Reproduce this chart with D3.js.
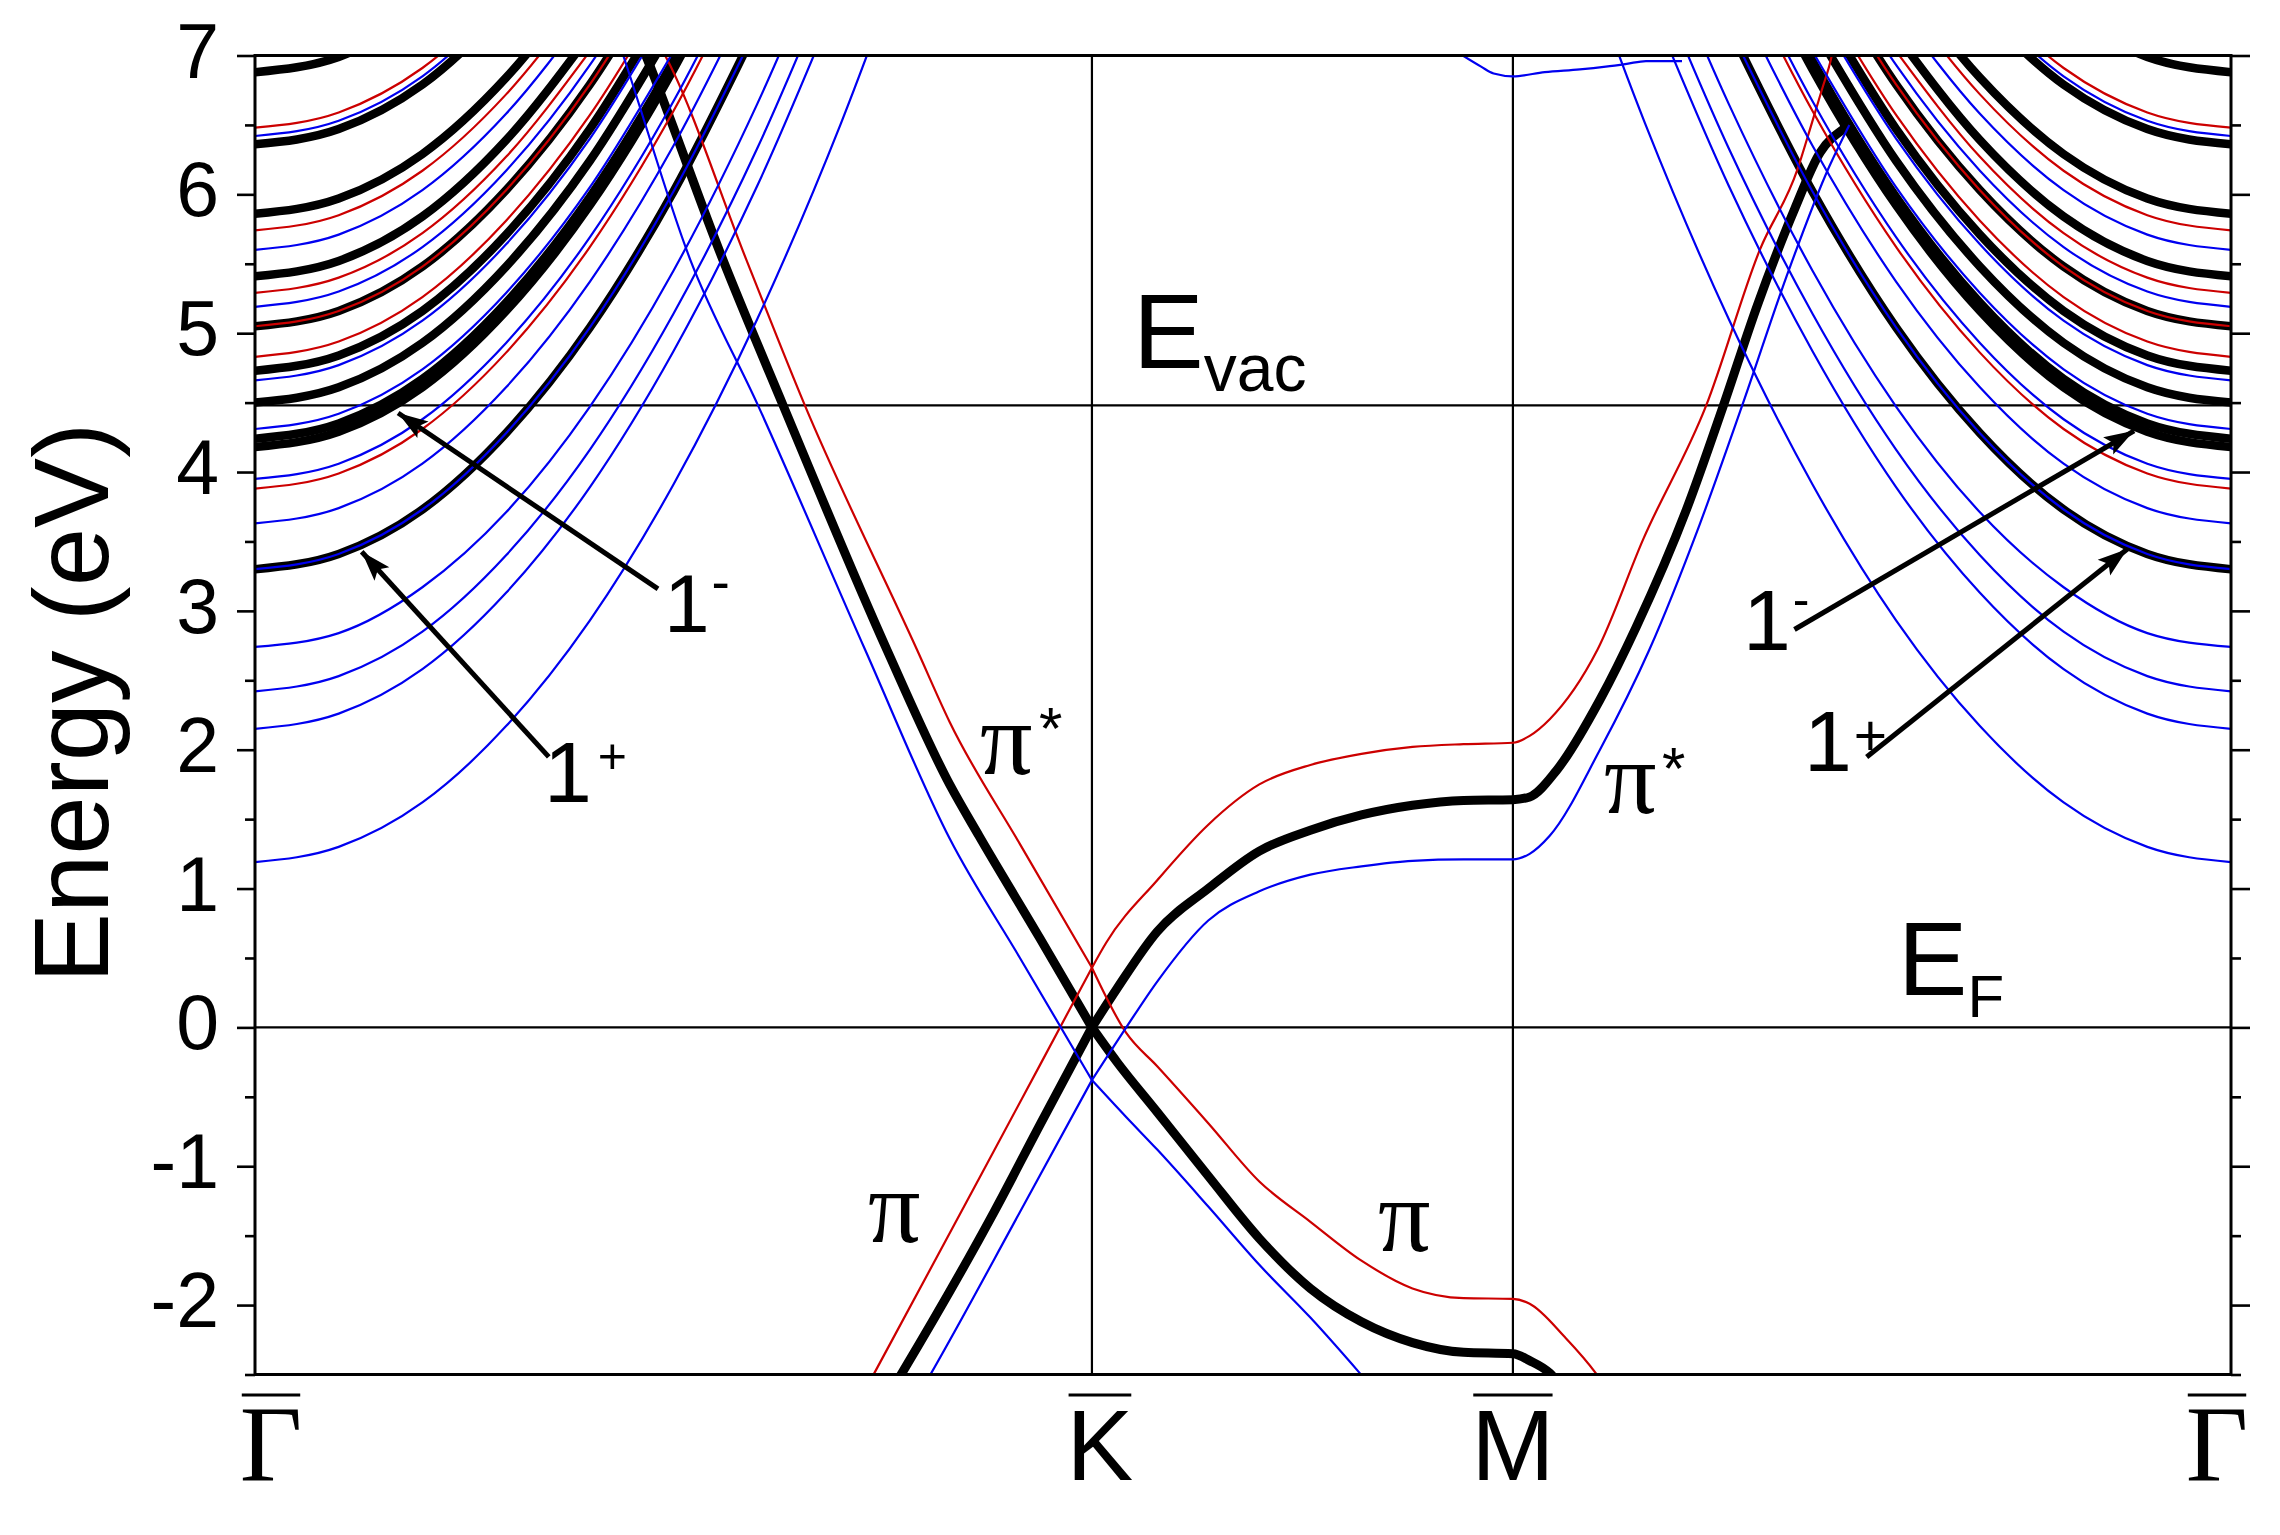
<!DOCTYPE html>
<html><head><meta charset="utf-8">
<script src="https://cdn.jsdelivr.net/npm/d3@7"></script>
<style>body{margin:0;background:#fff} svg{display:block}</style>
</head><body>
<svg id="c" width="2280" height="1535"></svg>
<script>
// ---------------- DATA ----------------
// k-path positions of the high-symmetry points (Γ-K = 1)
const kTicks = [0, 1, 1.503, 2.361];
const kNames = ["Γ", "K", "M", "Γ"];
const yMajor = [-2, -1, 0, 1, 2, 3, 4, 5, 6, 7];
const yMinor = [-2.5, -1.5, -0.5, 0.5, 1.5, 2.5, 3.5, 4.5, 5.5, 6.5];
const E_F = 0, E_VAC = 4.48;

// graphene pi / pi* bands, [k, E]  (black = reference, red = shifted up, blue = shifted down)
const blackUpperGK = [[0.436,7.45],[0.467,7.0],[0.559,5.53],[0.631,4.48],[0.755,2.72],[0.830,1.75],[0.865,1.38],[0.938,0.64],[1.0,0]];
const blackUpperKMG = [[1.0,0],[1.03,0.28],[1.078,0.69],[1.139,1.0],[1.2,1.27],[1.261,1.42],[1.322,1.53],[1.383,1.6],[1.444,1.635],[1.503,1.64],[1.523,1.66],[1.555,1.85],[1.607,2.36],[1.650,2.88],[1.711,3.74],[1.754,4.47],[1.795,5.2],[1.840,5.9],[1.870,6.3],[1.898,6.47]];
const blackLowerGK = [[0.747,-2.75],[0.773,-2.49],[0.883,-1.33],[0.938,-0.7],[1.0,0]];
const blackLowerKMG = [[1.0,0],[1.03,-0.25],[1.078,-0.61],[1.139,-1.07],[1.2,-1.52],[1.261,-1.88],[1.322,-2.12],[1.383,-2.27],[1.444,-2.34],[1.503,-2.35],[1.523,-2.40],[1.547,-2.49],[1.565,-2.62]];

const redUpperGK = [[0.460,7.3],[0.490,7.0],[0.587,5.53],[0.657,4.48],[0.791,2.72],[0.830,2.2],[0.914,1.32],[1.0,0.43]];
const redUpperKMG = [[1.0,0.43],[1.017,0.61],[1.078,1.06],[1.139,1.46],[1.2,1.75],[1.261,1.89],[1.322,1.97],[1.383,2.02],[1.444,2.04],[1.503,2.05],[1.523,2.10],[1.547,2.22],[1.604,2.72],[1.659,3.52],[1.734,4.48],[1.798,5.6],[1.843,6.18],[1.859,6.49],[1.872,6.75],[1.884,7.0],[1.89,7.2]];
const redLowerGK = [[0.723,-2.68],[0.740,-2.49],[0.866,-1.08],[0.938,-0.27],[1.0,0.43]];
const redLowerKMG = [[1.0,0.43],[1.041,-0.04],[1.078,-0.28],[1.139,-0.69],[1.2,-1.11],[1.261,-1.40],[1.322,-1.68],[1.383,-1.88],[1.444,-1.95],[1.503,-1.955],[1.523,-1.99],[1.565,-2.23],[1.602,-2.49],[1.62,-2.65]];

const blueUpperGK = [[0.412,7.5],[0.440,7.0],[0.520,5.53],[0.601,4.48],[0.729,2.72],[0.830,1.36],[0.914,0.50],[1.0,-0.38]];
const blueUpperKMG = [[1.0,-0.38],[1.041,0.0],[1.078,0.33],[1.139,0.77],[1.2,0.98],[1.261,1.10],[1.322,1.16],[1.383,1.20],[1.444,1.21],[1.503,1.21],[1.523,1.25],[1.547,1.38],[1.607,2.0],[1.666,2.72],[1.726,3.62],[1.777,4.48],[1.833,5.46],[1.881,6.2],[1.905,6.5]];
const blueLowerGK = [[0.783,-2.75],[0.808,-2.49],[0.914,-1.33],[1.0,-0.38]];
const blueLowerKMG = [[1.0,-0.38],[1.04,-0.64],[1.078,-0.88],[1.139,-1.29],[1.2,-1.71],[1.261,-2.09],[1.32,-2.49],[1.34,-2.63]];
const blueFoldedM = [[1.443,7.0],[1.465,6.92],[1.480,6.87],[1.503,6.85],[1.541,6.88],[1.583,6.90],[1.614,6.92],[1.639,6.94],[1.662,6.96],[1.705,6.96]];

// interlayer / image-potential bands near Γ: [distance from Γ, E]  (drawn at both Γ points)
const blackIPS = [
  [[0,6.88],[0.1,6.99],[0.2,7.31]],
  [[0,6.36],[0.1,6.47],[0.2,6.79],[0.3,7.34]],
  [[0,5.86],[0.1,5.97],[0.2,6.29],[0.3,6.84],[0.4,7.60]],
  [[0,5.41],[0.1,5.52],[0.2,5.84],[0.3,6.39],[0.4,7.15]],
  [[0,5.05],[0.1,5.16],[0.2,5.48],[0.3,6.03],[0.4,6.79],[0.5,7.77]],
  [[0,4.73],[0.1,4.84],[0.2,5.16],[0.3,5.71],[0.4,6.47],[0.5,7.45]],
  [[0,4.50],[0.1,4.61],[0.2,4.93],[0.3,5.48],[0.4,6.24],[0.5,7.22]],
  [[0,4.24],[0.1,4.35],[0.2,4.67],[0.3,5.22],[0.4,5.98],[0.5,6.96],[0.6,8.15]],
  [[0,4.18],[0.1,4.29],[0.2,4.61],[0.3,5.16],[0.4,5.92],[0.5,6.90],[0.6,8.09]],
  [[0,3.30],[0.1,3.41],[0.2,3.73],[0.3,4.28],[0.4,5.04],[0.5,6.02],[0.6,7.21]]
];
const redIPS = [
  [[0,6.48],[0.1,6.59],[0.2,6.91],[0.3,7.46]],
  [[0,5.74],[0.1,5.85],[0.2,6.17],[0.3,6.72],[0.4,7.48]],
  [[0,5.29],[0.1,5.40],[0.2,5.72],[0.3,6.27],[0.4,7.03]],
  [[0,5.05],[0.1,5.16],[0.2,5.48],[0.3,6.03],[0.4,6.79],[0.5,7.77]],
  [[0,4.83],[0.1,4.94],[0.2,5.26],[0.3,5.81],[0.4,6.57],[0.5,7.55]],
  [[0,3.88],[0.1,3.99],[0.2,4.31],[0.3,4.86],[0.4,5.62],[0.5,6.60],[0.6,7.79]]
];
const blueIPS = [
  [[0,6.42],[0.1,6.53],[0.2,6.85],[0.3,7.40]],
  [[0,5.60],[0.1,5.71],[0.2,6.03],[0.3,6.58],[0.4,7.34]],
  [[0,5.19],[0.1,5.30],[0.2,5.62],[0.3,6.17],[0.4,6.93],[0.5,7.91]],
  [[0,4.66],[0.1,4.77],[0.2,5.09],[0.3,5.64],[0.4,6.40],[0.5,7.38]],
  [[0,4.31],[0.1,4.42],[0.2,4.74],[0.3,5.29],[0.4,6.05],[0.5,7.03]],
  [[0,3.95],[0.1,4.06],[0.2,4.38],[0.3,4.93],[0.4,5.69],[0.5,6.67],[0.6,7.86]],
  [[0,3.63],[0.1,3.74],[0.2,4.06],[0.3,4.61],[0.4,5.37],[0.5,6.35],[0.6,7.54]],
  [[0,3.30],[0.1,3.41],[0.2,3.73],[0.3,4.28],[0.4,5.04],[0.5,6.02],[0.6,7.21]],
  [[0,2.74],[0.1,2.84],[0.2,3.17],[0.3,3.71],[0.4,4.47],[0.5,5.45],[0.6,6.65],[0.7,8.06]],
  [[0,2.42],[0.1,2.53],[0.2,2.85],[0.3,3.40],[0.4,4.16],[0.5,5.14],[0.6,6.33],[0.7,7.74]],
  [[0,2.15],[0.1,2.26],[0.2,2.58],[0.3,3.13],[0.4,3.89],[0.5,4.87],[0.6,6.06],[0.7,7.47]],
  [[0,1.19],[0.1,1.30],[0.2,1.62],[0.3,2.17],[0.4,2.93],[0.5,3.91],[0.6,5.10],[0.7,6.51],[0.8,8.14]]
];

// annotation arrows: [from k, from E, to k, to E]
const arrows = [
  [0.4815, 3.158, 0.171, 4.425],
  [0.351, 1.948, 0.1275, 3.426],
  [1.8394, 2.866, 2.2452, 4.297],
  [1.9257, 1.948, 2.2372, 3.446]
];

// ---------------- DRAW ----------------
const W = 2280, H = 1535;
const P = {left: 255, right: 2231, top: 55.5, bottom: 1374.5};
const x = d3.scaleLinear().domain([kTicks[0], kTicks[3]]).range([P.left, P.right]);
const y = d3.scaleLinear().domain([-2.5, 7]).range([P.bottom, P.top]);
const SANS = "'Liberation Sans', Arial, Helvetica, sans-serif";
const SERIF = "'Liberation Serif', 'Times New Roman', serif";
const BLUE = "#0000f0", RED = "#cc0000";

const svg = d3.select("#c");
svg.append("rect").attr("width", W).attr("height", H).attr("fill", "#fff");
const defs = svg.append("defs");
defs.append("clipPath").attr("id", "clip").append("rect")
  .attr("x", P.left).attr("y", P.top).attr("width", P.right - P.left).attr("height", P.bottom - P.top);
defs.append("marker").attr("id", "ah").attr("markerUnits", "userSpaceOnUse")
  .attr("viewBox", "-32 -12 34 24").attr("refX", 0).attr("refY", 0)
  .attr("markerWidth", 34).attr("markerHeight", 24).attr("orient", "auto")
  .append("path").attr("d", "M0,0 L-30,-10 L-24,0 L-30,10 Z").attr("fill", "#000");

const line = d3.line().x(d => x(d[0])).y(d => y(d[1])).curve(d3.curveMonotoneX);
const plot = svg.append("g").attr("clip-path", "url(#clip)");

// reference lines
plot.append("line").attr("x1", P.left).attr("x2", P.right).attr("y1", y(E_F)).attr("y2", y(E_F)).attr("stroke", "#000").attr("stroke-width", 2.2);
plot.append("line").attr("x1", P.left).attr("x2", P.right).attr("y1", y(E_VAC)).attr("y2", y(E_VAC)).attr("stroke", "#000").attr("stroke-width", 2.2);
[kTicks[1], kTicks[2]].forEach(k => {
  plot.append("line").attr("x1", x(k)).attr("x2", x(k)).attr("y1", P.top).attr("y2", P.bottom).attr("stroke", "#000").attr("stroke-width", 2.2);
});

function mirrored(pts) {
  const left = pts.map(p => [kTicks[0] + p[0], p[1]]);
  const right = pts.map(p => [kTicks[3] - p[0], p[1]]).reverse();
  return [left, right];
}
function drawSet(list, color, width) {
  list.forEach(pts => {
    plot.append("path").attr("d", line(pts)).attr("fill", "none")
      .attr("stroke", color).attr("stroke-width", width).attr("stroke-linejoin", "round");
  });
}

// black
blackIPS.forEach(b => drawSet(mirrored(b), "#000", 8.5));
drawSet([blackUpperGK, blackUpperKMG, blackLowerGK, blackLowerKMG], "#000", 9);
// red
redIPS.forEach(b => drawSet(mirrored(b), RED, 2.2));
drawSet([redUpperGK, redUpperKMG, redLowerGK, redLowerKMG], RED, 2.2);
// blue
blueIPS.forEach(b => drawSet(mirrored(b), BLUE, 2.2));
drawSet([blueUpperGK, blueUpperKMG, blueLowerGK, blueLowerKMG, blueFoldedM], BLUE, 2.2);

// frame
svg.append("rect").attr("x", P.left).attr("y", P.top).attr("width", P.right - P.left).attr("height", P.bottom - P.top)
  .attr("fill", "none").attr("stroke", "#000").attr("stroke-width", 3);

// y axes
const fmt = d => (d < 0 ? "-" + Math.abs(d) : String(d));
const axL = svg.append("g").attr("transform", `translate(${P.left},0)`)
  .call(d3.axisLeft(y).tickValues(yMajor).tickSize(18).tickPadding(18).tickFormat(fmt));
axL.selectAll("text").attr("font-family", SANS).attr("font-size", 77).attr("dy", "0.28em").attr("fill", "#000");
const axLm = svg.append("g").attr("transform", `translate(${P.left},0)`)
  .call(d3.axisLeft(y).tickValues(yMinor).tickSize(10).tickFormat(""));
const axR = svg.append("g").attr("transform", `translate(${P.right},0)`)
  .call(d3.axisRight(y).tickValues(yMajor).tickSize(19).tickFormat(""));
const axRm = svg.append("g").attr("transform", `translate(${P.right},0)`)
  .call(d3.axisRight(y).tickValues(yMinor).tickSize(10).tickFormat(""));
[axL, axLm, axR, axRm].forEach(a => {
  a.select(".domain").remove();
  a.selectAll("line").attr("stroke", "#000").attr("stroke-width", 2.6);
});

// y title
svg.append("text").attr("transform", "translate(108,703) rotate(-90)")
  .attr("text-anchor", "middle").attr("font-family", SANS).attr("font-size", 105).text("Energy (eV)");

// x labels with overbars
const kShift = [16, 8, 0, -14];
kTicks.forEach((k, i) => {
  const isG = kNames[i] === "Γ";
  const t = svg.append("text").attr("x", x(k) + kShift[i]).attr("y", 1480)
    .attr("text-anchor", "middle").attr("font-family", isG ? SERIF : SANS)
    .attr("font-size", isG ? 108 : 100).text(kNames[i]);
  const bb = t.node().getBBox();
  svg.append("line").attr("x1", bb.x + 2).attr("x2", bb.x + bb.width - 2)
    .attr("y1", 1395).attr("y2", 1395).attr("stroke", "#000").attr("stroke-width", 3);
});

// E_vac and E_F labels
const ev = svg.append("text").attr("x", 1133).attr("y", 368).attr("font-family", SANS).attr("font-size", 106);
ev.append("tspan").text("E");
ev.append("tspan").attr("font-size", 66).attr("dy", 23).text("vac");
const ef = svg.append("text").attr("x", 1898).attr("y", 995).attr("font-family", SANS).attr("font-size", 104);
ef.append("tspan").text("E");
ef.append("tspan").attr("font-size", 60).attr("dy", 22).text("F");

// pi labels
function piLabel(px, py, star, sx, sy) {
  svg.append("text").attr("x", px).attr("y", py).attr("font-family", SERIF).attr("font-size", 104).text("π");
  if (star) svg.append("text").attr("x", sx).attr("y", sy).attr("font-family", SANS).attr("font-size", 60).text("*");
}
piLabel(980, 774, true, 1039, 749);
piLabel(868, 1242, false);
piLabel(1378, 1251, false);
piLabel(1604, 813, true, 1662, 789);

// 1+ / 1- labels
function stateLabel(px, py, size, sup, supSize, dx, dy) {
  const t = svg.append("text").attr("x", px).attr("y", py).attr("font-family", SANS).attr("font-size", size);
  t.append("tspan").text("1");
  t.append("tspan").attr("font-size", supSize).attr("dx", dx).attr("dy", dy).text(sup);
}
stateLabel(664, 632, 82, "-", 55, 2, -31);
stateLabel(544, 802, 86, "+", 50, 6, -29);
stateLabel(1743, 650, 86, "-", 50, 2, -34);
stateLabel(1804, 771, 86, "+", 57, 2, -16);

// arrows
arrows.forEach(a => {
  svg.append("line").attr("x1", x(a[0])).attr("y1", y(a[1])).attr("x2", x(a[2])).attr("y2", y(a[3]))
    .attr("stroke", "#000").attr("stroke-width", 5).attr("marker-end", "url(#ah)");
});
</script>
</body></html>
